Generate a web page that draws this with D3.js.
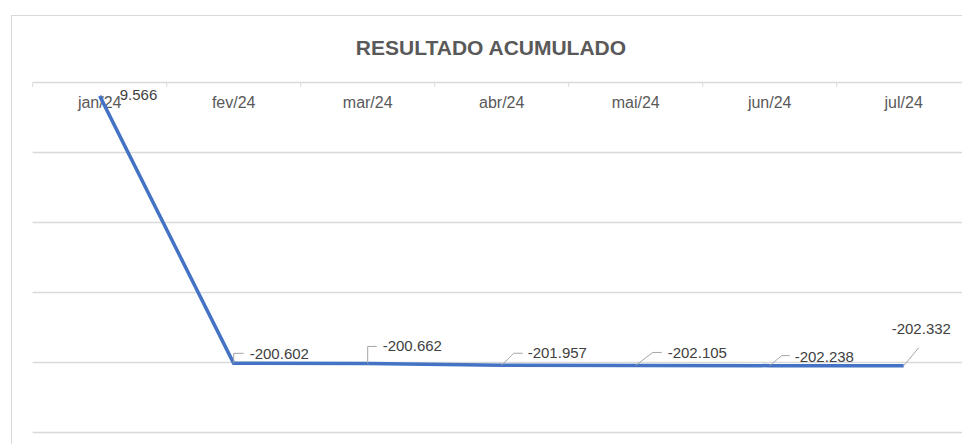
<!DOCTYPE html>
<html>
<head>
<meta charset="utf-8">
<script src="https://cdn.jsdelivr.net/npm/d3@7"></script>
<style>
  body { margin: 0; background: #fff; }
  text { font-family: "Liberation Sans", Arial, sans-serif; }
</style>
</head>
<body>
<div id="chart"></div>
<script>
// chart data
const months = ["jan/24", "fev/24", "mar/24", "abr/24", "mai/24", "jun/24", "jul/24"];
const resultado = [-9566, -200602, -200662, -201957, -202105, -202238, -202332];
const dataLabels = ["9.566", "-200.602", "-200.662", "-201.957", "-202.105", "-202.238", "-202.332"];
const yTicks = [-250000, -200000, -150000, -100000, -50000, 0];

// label placement (moved by hand in the original), relative to each point
const labelPos = [
    { dx: 20, dy: 4, leader: null },
    { dx: 16, dy: -4, leader: [[0, 0], [0, -10], [10, -10]] },
    { dx: 15, dy: -12, leader: [[0, 0], [0, -17], [9, -17]] },
    { dx: 26, dy: -7, leader: [[0, 0], [12, -12], [21, -12]] },
    { dx: 32, dy: -7, leader: [[0, 0], [17, -13], [26, -13]] },
    { dx: 25, dy: -4, leader: [[0, 0], [12, -10], [20, -10]] },
    { dx: -12, dy: -32, leader: [[0, 0], [15, -18]] }
];

const width = 962, height = 444;
const plot = { left: 32.7, right: 970.7, top: 82.5, bottom: 432.5 };
const grid = "#d9d9d9";

const svg = d3.select("#chart")
    .append("svg")
    .attr("width", width)
    .attr("height", height);

// chart border
svg.append("rect")
    .attr("x", 11.5).attr("y", 15.5)
    .attr("width", 960).attr("height", 440)
    .attr("fill", "#fff")
    .attr("stroke", grid);

// title
svg.append("text")
    .attr("x", 491).attr("y", 55)
    .attr("text-anchor", "middle")
    .attr("font-size", 21)
    .attr("font-weight", "bold")
    .attr("fill", "#595959")
    .text("RESULTADO ACUMULADO");

const x = d3.scaleBand()
    .domain(months)
    .range([plot.left, plot.right]);

const y = d3.scaleLinear()
    .domain([-250000, 0])
    .range([plot.bottom, plot.top]);

// gridlines
svg.append("g")
    .selectAll("line")
    .data(yTicks.filter(d => d < 0))
    .join("line")
    .attr("x1", plot.left).attr("x2", plot.right)
    .attr("y1", d => y(d)).attr("y2", d => y(d))
    .attr("stroke", grid)
    .attr("stroke-width", 1.3);

// category axis sits on the zero line, at the top
const axis = svg.append("g");
axis.append("line")
    .attr("x1", plot.left).attr("x2", plot.right)
    .attr("y1", y(0)).attr("y2", y(0))
    .attr("stroke", grid)
    .attr("stroke-width", 1.3);
axis.selectAll(".tick")
    .data(months)
    .join("line")
    .attr("x1", d => x(d)).attr("x2", d => x(d))
    .attr("y1", y(0)).attr("y2", y(0) + 4.5)
    .attr("stroke", grid);
axis.selectAll("text")
    .data(months)
    .join("text")
    .attr("x", d => x(d) + x.bandwidth() / 2)
    .attr("y", 108)
    .attr("text-anchor", "middle")
    .attr("font-size", 16)
    .attr("fill", "#595959")
    .text(d => d);

const px = (d, i) => x(months[i]) + x.bandwidth() / 2;
const py = d => y(d);

// the line
svg.append("path")
    .datum(resultado)
    .attr("fill", "none")
    .attr("stroke", "#4472c4")
    .attr("stroke-width", 3.5)
    .attr("stroke-linejoin", "round")
    .attr("d", d3.line()
        .x((d, i) => px(d, i))
        .y(d => py(d)));

// leader lines
svg.append("g")
    .selectAll("path")
    .data(resultado)
    .join("path")
    .attr("fill", "none")
    .attr("stroke", "#a6a6a6")
    .attr("stroke-width", 1)
    .attr("d", (d, i) => {
        const l = labelPos[i].leader;
        if (!l) return null;
        return d3.line()(l.map(p => [px(d, i) + p[0], py(d) + p[1]]));
    });

// data labels
svg.append("g")
    .selectAll("text")
    .data(resultado)
    .join("text")
    .attr("x", (d, i) => px(d, i) + labelPos[i].dx)
    .attr("y", (d, i) => py(d) + labelPos[i].dy)
    .attr("font-size", 15)
    .attr("fill", "#404040")
    .text((d, i) => dataLabels[i]);
</script>
</body>
</html>
